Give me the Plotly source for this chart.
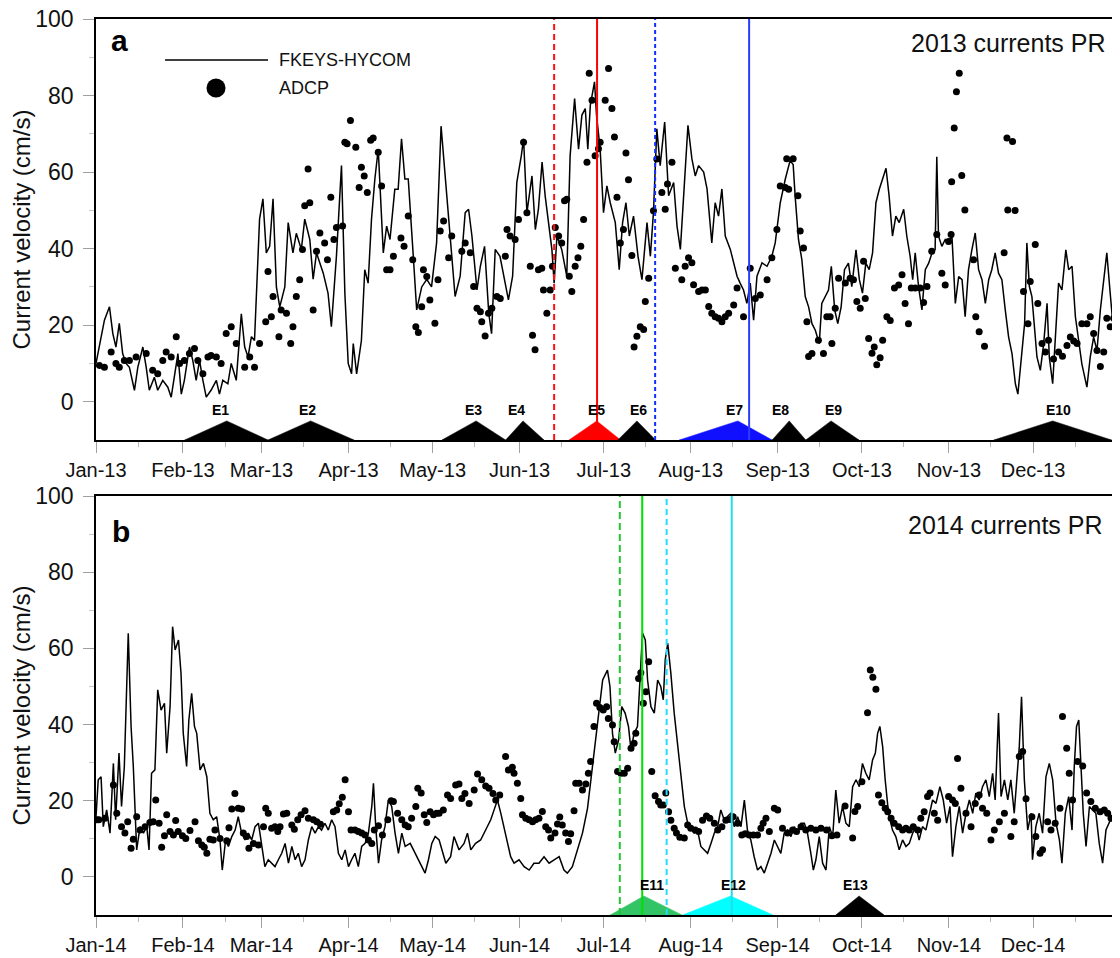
import numpy as np
import pandas as pd
import plotly.graph_objects as go

# ---------------- DATA (day-of-year offset, value in cm/s) ----------------
hycom_2013 = [
 (0,10),(1.8,17),(3,21.3),(4.8,24.8),(6,17.8),(7.1,14.3),(8.3,20.5),(9.5,12.6),(10.7,10),(11.9,9),
 (13.7,3),(14.9,9),(16.7,14.3),(17.9,9),(19,3),(20.8,6.4),(22,3),(23.8,5.6),(25.6,3.8),(26.8,1.2),
 (28,7.3),(29.2,12.6),(30.4,2),(31.5,5.6),(33.3,14.3),(34.5,10.8),(35.7,5.6),(36.9,10.8),(38.1,5.6),(39.3,1.2),
 (41,3),(42.9,5.6),(44,2),(45.2,5.6),(47,4.7),(48.2,10),(50,5.6),(51.8,23),(53,14.3),(54.2,11.7),
 (55.4,17),(56.5,16),(58.3,47.7),(59.5,53),(60.7,38.9),(61.9,40.6),(63.1,53),(64.3,30),(65.5,24.8),(67.3,30),
 (68.5,46.8),(70.2,38.9),(71.4,44),(73.2,39.8),(74.4,47.7),(76.2,42.4),(77.4,32),(78.6,38.9),(81,33.6),(82.7,28.4),
 (83.9,19.6),(85.7,38),(87.5,61.7),(88.7,28.4),(89.9,10),(91.1,7.3),(91.7,15.2),(92.9,7.3),(94.6,16),(95.8,34.5),
 (97,31),(98.2,47.7),(99.4,58.2),(100.6,66),(102.4,38.9),(103.6,45.9),(104.8,42.4),(106.5,55.5),(107.7,55.5),(108.9,68.7),
 (110.1,58.2),(111.3,58.2),(113.1,38),(114.3,24),(116.1,30),(117.9,32),(119.6,30),(121.4,41.5),(123,72),
 (125.7,46.8),(128,27.5),(129.8,32.8),(131.6,49.4),(132.8,50.3),(134,43.3),(135.8,29.2),(137,35.4),(138.5,40.6),(140,23.1),
 (141,17.8),(142.3,39.8),(144,38),(146,31),(147,26.6),(148.5,32.8),(150,57.3),(151.6,64.3),(152.4,68.7),(153.6,49.4),
 (155.4,59),(156.6,45),(157.7,50.3),(159,62.6),(160.1,53.8),(161.3,46.8),(162.5,39.8),(163.3,31),(164.3,43.3),(166,39.8),
 (167.8,32.8),(169,64.3),(170.6,79.2),(172,66),(173.2,74.9),(174.4,76.6),(175.3,66),(176.2,77.5),(177.7,83.6),(178.4,74.9),
 (179.7,66),(180.9,49.4),(182.1,56.4),(183.3,52),(185.1,46.8),(186.5,34.5),(187.7,46.8),(188.9,52),(190.1,43.3),(191.6,48.5),
 (193.2,38),(194.6,31.9),(196.4,46.8),(197.6,38),(198.7,49.4),(199.9,71.3),(201.1,61.7),(202.7,73.1),(204.1,53.8),(205.9,57.3),
 (207.1,45.9),(208.3,39.8),(209.4,52),(211,72.2),(212.4,63.5),(213.6,59),(214.8,61.7),(216.6,60),(217.8,55.6),(219.5,41.5),
 (220.7,52),(221.9,48.5),(223.1,55.6),(224.3,43.3),(226.1,39.8),(227.3,36.3),(228.5,32.8),(229.6,31),(230.8,29.2),(232,25.7),
 (233.2,31),(234.4,21.3),(235.6,32.8),(237.4,36.3),(239.2,35.4),(240.9,38),(242.1,41.5),
 (243.9,52),(245.7,58.2),(247.4,63),(248.5,62),(249.2,53.8),(250.4,42.4),(251.6,37.1),(252.8,27.5),(254,24.8),(255.2,20.4),
 (256.4,18.7),(257.8,15.2),(258.7,25.7),(259.9,27.5),(261.1,29.2),(262.1,35.4),(263.3,24),(264.4,20.4),(265.6,24.8),(266.8,34.5),
 (268.2,36.2),(269.4,30.1),(270.9,39.7),(272.1,31.9),(273.2,28.4),(274.4,36.2),(275.6,34.5),(276.8,38.9),(278,52),(279.2,55.5),
 (280.4,58.2),(281.6,61),(282.7,53.8),(283.9,43.3),(285.1,48.5),(286.3,46.8),(287.9,50.3),(289,43.3),(290.2,38),(291.1,31.9),
 (292,38.9),(293.2,30.1),(294.4,24),(295.6,34.5),(296.8,36.2),(298,38.9),(299.1,39.7),(299.7,64),(300.3,43.3),(301.5,40.6),
 (302.7,42.4),(303.9,41.5),(305.1,43.3),(306.3,25.7),(307.5,32.7),(308.7,31.9),(309.8,22.2),(311,34.5),(312.2,39.7),(313.4,44.1),
 (314.6,34.5),(315.8,31.9),(317,25.7),(318.2,31.9),(319.3,34.5),(320.5,38.9),(321.7,33.6),(322.9,31.9),(324.1,24),(325.3,16.9),
 (326.5,12.6),(327.7,4.7),(328.6,2),(329.8,11.7),(331,20.4),(331.8,41.5),(332.7,30.1),(333.6,27.5),(334.5,18.7),(335.4,11.7),
 (336.6,8.2),(337.8,15.2),(339,25.7),(339.8,11.7),(341,4.7),(341.9,16.9),(343.1,31),(344.3,29.2),(345.7,39.7),(346.7,34.5),
 (347.9,35.4),(349.1,22.2),(350.2,16.9),(351.4,9.9),(353.2,3.8),(354.4,11.7),(355.6,16.9),(356.8,13.4),(358,24),(359.2,31.9),
 (360.3,38.9),(361.5,28.4),(362.7,18.7),(363.9,8.2),(364.7,11.7),
]

adcp_2013 = [
 (1.2,9.5),(3,9),(5.4,13),(7.1,10),(8.3,9),(10.1,10.8),(11.9,10.8),(14.3,11.7),(17.9,12.6),(20.2,8.2),
 (22,7.3),(23.8,10.8),(25,13),(26.8,11.7),(28.6,17),(29.8,10),(31.5,10.8),(33.3,12.6),(35.1,13.9),(36.3,10.8),
 (38.1,7.3),(39.9,11.7),(41,12.1),(42.9,11.7),(44.6,10),(46.4,17.8),(48.2,19.6),(50,15.2),(53,9),(54.8,11.7),
 (56.5,9),(58.3,15.2),(60.5,20.9),(61.3,34),(62.5,22.2),(63.1,27.5),(65.2,17),(66,24),(67.9,23.1),(69.4,15.2),
 (70.2,19.6),(71.4,27.5),(72.6,31.9),(73.6,39.8),(74.4,51.2),(75.6,60.8),(76.2,52),(77.4,24),(78.6,39.3),(79.8,44.1),
 (81.5,41.5),(82.5,37.1),(83.7,53.4),(84.8,42.4),(85.7,45.5),(87.9,45.9),(88.7,67.8),(89.5,67.4),(90.7,73.5),(92.6,66.5),
 (93.8,56),(94.6,61.3),(95.6,59),(96.7,54.7),(97.9,68.3),(98.8,68.9),(100.6,65.2),(101.8,56.4),(103.6,34.5),(104.8,34.5),
 (106,38),(108.7,42.8),(109.8,40.6),(111.3,48.5),(112.9,37.1),(114,19.6),(114.9,18.1),(116.1,24.8),(116.7,34.5),(117.9,32.7),
 (119,26.6),(120.8,20.5),(121.9,31.9),(122.7,44.6),(123.9,47.2),(125.7,37.6),(126.8,43.3),(130.4,39.3),(131.6,41.5),(133.4,38.9),
 (134.6,30.1),(135.8,24.4),(137,23.5),(137.5,20.9),(138.7,17.2),(139.9,23.1),(141.1,24.4),(142.9,27.5),(144.1,27),(145.9,38),
 (146.5,45),(147.6,43.3),(149.4,42.4),(150.6,47.6),(152.4,67.8),(153.6,49.4),(154.8,35.4),(155.6,17.4),(156.5,13.6),(157.7,34.5),
 (158.9,34.9),(159.5,29.2),(160.7,23.1),(161.9,29.2),(162.7,35.4),(163.7,45.5),(164.9,43.3),(166,41.5),(167,52.5),(167.8,52.9),
 (168.7,32.8),(169.6,28.8),(170.8,35.4),(171.8,37.6),(172.8,40.6),(173.8,47.6),(175,62.6),(175.8,85.8),(176.8,78.8),(177.9,64.3),
 (179.1,66.1),(179.7,67.8),(181.5,78.8),(182.7,87.1),(183.9,76.6),(184.8,69.2),(185.7,53.4),(186.9,41.5),(188,45),(188.9,65),
 (189.8,58),(191,38.2),(191.8,14.3),(192.8,17.1),(194,19.6),(195.2,18.9),(195.8,26.2),(197,32.3),(198.7,49.9),(199.9,63.4),
 (201.7,54.7),(202.9,50.3),(203.7,56.9),(205.3,62.6),(206.5,34.9),(208.8,31.9),(210,35.4),(211.2,37.6),(212.4,36.3),(213,30.6),
 (214.8,28.8),(216,29.2),(217.2,29.2),(218.4,24.9),(219.5,23.1),(220.7,22.2),(221.9,21.8),(223.1,20.9),(224.3,22.2),(225.5,23.1),
 (227.3,25.3),(228.5,29.7),(230.8,22.2),(233.2,34.9),(235,27),(236.8,27.9),(239.2,31.9),(240.9,37.6),(242.7,45),(243.9,56.4),
 (245.7,56),(246.2,63.5),(246.9,55.5),(248.5,63.5),(250.2,53.8),(251,44.6),(252.2,40.2),(253.4,20.9),(254,11.8),(255.2,12.6),
 (257.5,16.1),(259.3,12.6),(260.5,22.2),(261.7,22.2),(262.3,15.2),(263.5,24.4),(264.7,32.3),(267.1,31),(268.8,32.3),(270,31.9),
 (271.2,26.2),(272.4,24.4),(273.6,36.7),(274.2,27),(275.4,16.5),(276.6,12.7),(277.4,14.3),(278.3,9.7),(279.5,11.5),(280.4,16.1),
 (281.9,22.2),(283.1,21.2),(284.6,29.7),(286.1,30.5),(287.3,33.2),(288.4,25.7),(289.6,20.4),(290.6,29.7),(292,29.7),(293.8,29.7),
 (295,25.9),(296.2,30.1),(297.9,39.3),(299.7,43.7),(301.5,33.6),(302.7,30.5),(303.9,41.9),(304.8,43.7),(305,57.5),(305.9,71.5),
 (306.7,81),(307.7,85.8),(308.6,59.1),(309.7,50.1),(312.8,37.1),(313.6,22.2),(314.8,18.3),(316.7,14.5),(323.7,38.9),(324.7,68.9),
 (325,50.1),(326.7,68),(327.6,50),(330.6,28.8),(332.2,20.4),(333,31.4),(334.8,41.1),(335.7,25.7),(337.2,15.2),(338.4,13),
 (339.5,16.1),(341.3,11.2),(343.1,13),(344.5,11.9),(346.1,14.7),(347.3,16.9),(348.5,15.9),(349.7,15.2),(351.4,20.4),(353.2,20.4),
 (354.4,22.2),(355.6,17.8),(356.8,13.4),(358,9.2),(359.2,13),(360.3,21.8),(361.5,19.6),(362.7,21.8),(363.9,12.6),
]

hycom_2014 = [
 (0,15.8),(0.8,25.5),(1.8,26.3),(2.6,13.2),(3.8,17.6),(5,11.5),(6.2,29.8),(7,15),(8.2,32.5),(9.1,18.5),
 (10.1,29),(10.9,50),(11.5,64),(12.5,39.5),(13.3,29),(14.5,7.1),(15.7,13.2),(16.9,11.5),(18.1,13.2),(18.9,7.1),
 (19.8,27.2),(21,28.1),(22,49.1),(23.2,43.8),(24.4,45.6),(25.2,32.5),(26.4,44.7),(27.3,65.7),(28.2,59.6),(29.4,62.2),
 (30.3,53.4),(31.1,37.7),(32.3,29),(33.1,41.2),(34.1,48.2),(35.1,39.5),(35.9,37.7),(37.1,28.1),(38.3,29.8),(39.5,26.3),
 (40.6,16.7),(41.8,15),(43,15.8),(44.2,9.7),(45,1.8),(46.2,9.7),(47.2,8),(48.4,10.6),(49.6,12.3),(50.7,15.8),
 (51.9,11.5),(53.1,9.7),(54.3,11.5),(55.5,9.7),(56.7,13.2),(57.9,14.1),(59.1,8),(60.2,2.7),(61.4,4.5),(62.6,3.6),
 (63.8,2.7),(65,4.5),(66.2,6.2),(67.4,8.8),(68.6,3.6),(69.8,8),(71,4.5),(72.1,6.2),(73.3,2.7),(74.5,4.5),
 (75.7,9.7),(76.9,13.2),(78.1,11.5),(79.3,13.2),(80.4,12.3),(81.6,14.1),(82.8,12.3),(84,15),(85.2,13.2),(86.4,6.2),
 (87.6,4.5),(88.8,7.1),(90,2.7),(91.1,4.5),(92.3,6.2),(93.5,2.7),(94.7,8),(95.9,8.8),(97.1,11.5),(98.3,18.5),
 (98.9,24.6),(99.7,13.2),(100.7,3.6),(101.8,9.7),(103,13.2),(104.2,20.2),(105.4,18.5),(106.6,11.5),(107.8,6.2),(109,11.5),
 (110.2,8),(112,8.8),(113.7,6.2),(115.5,3.6),(117.3,1),(118.5,4.5),(119.7,8.8),(120.9,10.6),(122.3,9.7),(124.7,3.6),
 (126.4,5.3),(127.6,10.6),(129.4,7.1),(131.2,8.8),(132.4,11.5),(133.6,7.1),(135.3,8.8),(137.1,9.7),(138.9,12.3),(140.7,15),
 (141.9,17.6),(143.1,20.2),(144.3,16.7),(146,11.5),(147.8,5.3),(149,3.6),(150.8,4.5),(152.6,2.7),(154.4,1.8),(156.1,3.6),
 (157.9,3.6),(159.7,5.3),(161.5,3.6),(163.3,4.5),(165.1,5.3),(166.8,1.8),(168,1),(169.8,2.7),(171.6,7.1),(173.4,11.5),
 (175.2,18),(177,29),(178.7,38.5),(180.6,51.7),(182.3,54.3),(183.2,50),(184.1,37.7),(185.1,32.5),(186.3,36),(187.4,44.7),
 (188.6,43),(189.8,39.5),(190.7,33.3),(191.8,37.7),(193,39.5),(193.9,51.7),(194.8,64),(195.8,62.2),(196.6,51.7),(197.8,44.7),
 (199,43),(200.2,51.7),(201.3,50),(202.2,46.5),(202.9,57),(203.8,61.3),(204.9,53.5),(206.1,43),(207.3,34.2),(208.5,25.5),
 (209.7,18.5),(210.9,14.1),(212,13.2),(213.2,11.5),(214.4,12.3),(215.6,8),(216.8,7.1),(218,6.2),(219.2,8.8),(220.4,11.5),
 (221.6,13.2),(222.7,17.6),(223.9,15),(225.1,15.8),(226.3,16.7),(227.5,13.2),(228.7,15.8),(229.9,13.2),(231.1,20.2),(232.2,12.3),
 (233.4,9.7),(234.6,5.3),(235.8,1.8),(237,2.7),(238.2,1),(239.4,3.6),(240.6,6.2),(241.8,9.7),(243,8),(244.1,6.2),
 (245.3,11.5),(246.5,12.3),(247.7,10.6),(248.9,13.2),(250.1,11.5),(251.3,14.1),(252.5,14.1),(253.6,11.5),(254.8,6.2),(255.7,1.8),
 (256.6,4.5),(257.8,10.6),(259,3.6),(260.2,1.8),(261.4,13.2),(262.6,10.6),(263.7,22.8),(264.9,14.1),(266.1,18.5),(267.3,14.1),
 (268.5,13.2),(269.7,23.7),(270.9,25.5),(272.1,23.7),(273.2,29.8),(274.4,27.2),(275.6,25.5),(276.8,30.7),(277.8,32.5),(278.6,37.7),
 (279.4,39.5),(280.4,34.2),(281.3,25.5),(282.5,16.7),(283.9,12.3),(285.1,10.6),(286.3,7.1),(287.5,9.7),(288.7,8),(289.9,8.8),
 (291.1,11.5),(292.3,13.2),(293.4,9.7),(294.6,13.2),(295.8,12.3),(297,16.7),(298.2,20.2),(299.4,19.3),(300.8,23.7),(302,20.2),
 (303.2,14.1),(304.4,18.5),(305.3,5.3),(306.5,13.2),(307.7,18.5),(308.9,11.5),(310.1,16.7),(311.3,20.2),(312.5,16.7),(313.6,22),
 (314.8,20.2),(316,23.7),(317.2,25.5),(318.4,21.1),(319.6,27.2),(320.5,20.2),(321.7,43),(322.6,21.1),(323.8,25.5),(325,20.2),
 (326.1,25.5),(327.3,16.7),(328.5,29.8),(329.1,34.2),(329.9,47.3),(330.9,25.5),(332.1,12.3),(333.3,16.7),(333.8,4.5),(335,13.2),
 (336.2,16.7),(337.4,11.5),(338.6,26.3),(339.8,29.8),(341,25.5),(342.2,14.1),(343.4,9.7),(344.3,3.6),(345.5,16.7),(346.7,21.1),
 (347.9,12.3),(348.7,29),(349.5,39.5),(350.3,41.2),(351.1,29),(351.9,16.7),(352.9,8),(354.1,18.5),(355.2,17.6),(356.4,16.7),
 (357.6,8.8),(358.8,3.6),(360,12.3),(361.2,14.1),(362.1,15.8),(364,17),
]

adcp_2014 = [
 (0.2,15),(1,15),(3.2,15.4),(6.2,24.1),(7.4,16.7),(9.1,13.2),(10.3,11.5),(11.3,14.5),(12.5,7.5),(13.3,9.9),
 (14.5,15.8),(15.7,12.3),(17.5,13.2),(19.2,14.3),(20.4,14.5),(21.3,20.2),(22.5,14.1),(23.4,7.8),(24.4,10.8),(25.2,16.3),
 (26.4,11.9),(27.6,11),(28.4,14.8),(29.3,11.9),(30.8,10.8),(32,10.1),(33.5,12.2),(35.3,14.5),(36.5,9.5),(37.7,8.4),
 (38.6,7.8),(39.5,6.2),(40.6,9.9),(41.8,9.7),(42.4,12.3),(44.2,10.1),(46.6,9.5),(47.4,12.9),(48.4,17.8),(49.5,21.9),
 (50.7,18),(51.9,17.8),(52.5,11.5),(53.7,10.6),(54.5,7.5),(56.1,8.8),(57.9,8.4),(59.7,13.2),(60.5,18),(61.4,16.7),
 (62.6,12.8),(63.8,13.2),(64.8,11.9),(65.6,13.2),(66.8,16.5),(68,16.7),(69.8,13.6),(70.7,12.5),(71.9,15),(73.1,16.3),
 (74.5,17.4),(75.7,15.4),(77.5,15),(78.7,14.5),(80,13.8),(84.6,17.1),(85.8,17.6),(86.7,19.2),(87.8,20.9),(88.8,25.5),
 (90,17.1),(90.9,12.3),(92.3,12.3),(93.5,11.9),(94.7,11.5),(95.9,11),(97.1,9.7),(98.3,8.8),(99.2,12.3),(100.7,13.4),
 (102.1,11),(104,15),(105.2,20),(106,19.8),(107.5,16.7),(109,15),(110.2,13.6),(111.3,13.2),(112.5,15.4),(114,18.5),
 (114.7,23.3),(115.9,22),(117,16.3),(117.9,14.3),(119.1,17.1),(120.3,16.3),(121.4,16.7),(122.3,16.7),(123.8,17.6),(125.3,21.5),
 (126.4,20.6),(128.2,24.1),(129.4,24.4),(130.4,20.6),(131.5,21.9),(133,19.3),(134.8,22.8),(136,27),(137.5,25.5),(138.9,23.9),
 (140.1,23.3),(141.5,21.9),(142.5,20.2),(143.9,21.5),(146,31.6),(147,28.1),(148.4,28.8),(149,27.2),(150.2,24.6),(151.4,20.6),
 (152,16.3),(153.2,15.4),(154.4,15),(155.6,14.5),(156.7,15),(157.9,15.4),(159.1,17.2),(160.3,13.2),(161.3,12.3),(162.1,10.2),
 (163.6,11.5),(164.5,13.9),(165.3,15.7),(166.2,13.6),(167.4,11.5),(168.4,9.3),(169.2,11.3),(170.4,17.4),(171,24.6),(172.2,24.6),
 (173.4,22.8),(174.6,24.4),(175.5,27.2),(176.3,30.3),(177.5,39.5),(178.4,45.6),(179.6,44.5),(180.8,43.8),(182,44.7),(182.6,41.6),
 (184.1,39.9),(184.7,35.5),(185.9,27.7),(187.1,27.2),(188.3,27.2),(189.5,28.5),(190.7,33.8),(191.8,35.1),(192.4,37.7),(193.4,52.1),
 (194.2,53.6),(195.1,45.6),(196,48.6),(197,56.5),(198.1,27.7),(199.3,21.3),(200.5,19.8),(201.3,18.9),(202.2,18.9),(203.1,22),
 (204.1,17.1),(204.9,14.9),(206.1,12.8),(206.9,11.5),(208.1,10.4),(209.7,10.2),(210.9,13.6),(212,12.8),(213.6,12.3),(214.8,11.9),
 (216.2,14.9),(217.6,16),(218.8,15.4),(220.4,14.1),(221.6,12.3),(223.1,13.2),(224.5,14.9),(226,15.1),(227.1,15.8),(228.7,14.1),
 (230.2,11),(231.4,11.3),(232.8,11),(234.3,11),(235.8,11),(237,12.8),(237.8,14.1),(238.8,15.4),(240,11.9),(241.8,18),
 (243,17.6),(244.7,12.8),(246.5,11.5),(248.3,12.3),(249.7,11.9),(251.3,13.2),(253,12.3),(254.8,12.8),(256.6,12.3),(258.4,12.8),
 (260.4,12.3),(262.3,10.8),(264.1,11),(267,18.6),(269.7,10.2),(270.5,17.2),(271.5,18.5),(273,25),(275,43.1),(276,54.3),
 (276.9,52.4),(278,49.3),(278.9,21.5),(280.1,19.5),(281.3,18),(282.2,17.1),(283.4,15.4),(284.5,14.1),(286.1,13.2),(287.5,12.3),
 (288.7,12.8),(289.9,12.3),(291.3,13.2),(292.9,12.3),(294,15.4),(295.2,17.1),(296.4,21.1),(297.3,22),(298.8,16.7),(300,14.9),
 (303.9,21.1),(305.3,20.2),(306.3,19.3),(307.1,31.1),(308.3,23.3),(310.1,16.7),(311.9,13.2),(313.4,19.3),(314.8,21.5),(316,18),
 (317.5,16.7),(319,9.7),(320.2,12.3),(322,14.5),(323.8,16.7),(326.1,10.6),(327.3,14.5),(329.1,31.6),(330.3,32.9),(331.5,20.5),
 (333.6,15.8),(335,10.6),(336.5,6.2),(337.4,7.1),(339.2,14.5),(340.4,12.3),(341.9,14.1),(343.6,18),(344.5,42.1),(346,33.8),
 (346.9,27.2),(348.1,20.2),(349.9,30.3),(351.7,29.1),(353.1,22),(354.6,19.8),(356.2,18),(357.9,17.1),(359.4,17.6),(360.6,16.7),
 (361.8,15.4),
]

# Events: name, start day, peak day, end day, colour
events_2013 = [
 ("E1", 31.6, 46.6, 61.3, "black"), ("E2", 61.3, 76.5, 92, "black"),
 ("E3", 123.3, 135.5, 146, "black"), ("E4", 146, 152.2, 159.7, "black"),
 ("E5", 168.6, 178.5, 187, "#ff0000"), ("E6", 186, 192.8, 199.5, "black"),
 ("E7", 207.9, 228.8, 241, "#1010ff"), ("E8", 241, 247.1, 253, "black"),
 ("E9", 253, 262, 272, "black"), ("E10", 320, 341, 362, "black"),
]
events_2014 = [
 ("E11", 183.3, 195.3, 208.9, "#33c466"), ("E12", 209.1, 226.2, 241.3, "#00ffff"),
 ("E13", 263.7, 272, 280.9, "black"),
]
event_label_day_2013 = [44.4, 75.4, 134.4, 149.9, 178.4, 193.2, 227.6, 243.9, 262.7, 343.2]
event_label_day_2014 = [198.2, 227.1, 270.6]

# Vertical markers: day, colour, dash
vlines_2013 = [(163.3, "#ff1010", "6px,4px"), (178.6, "#ff0000", "solid"),
               (199.3, "#1030ff", "4px,3px"), (232.8, "#2a3cff", "solid")]
vlines_2014 = [(186.7, "#22c433", "7px,4px"), (194.7, "#00e000", "solid"),
               (203.4, "#22ddff", "6px,4px"), (226.6, "#22dcec", "solid")]

y_ticks = [0, 20, 40, 60, 80, 100]
y_minor = [10, 30, 50, 70, 90]
month_fmt = "%b-%y"

# ---------------- helpers ----------------
FONT = "Arial, 'Liberation Sans', Helvetica, sans-serif"

def to_dates(year, days):
    return pd.Timestamp(f"{year}-01-01") + pd.to_timedelta(np.asarray(days, dtype=float), unit="D")

fig = go.Figure()

def add_panel(year, hycom, adcp, events, label_days, vlines, xa, ya):
    hd, hv = zip(*hycom)
    ad, av = zip(*adcp)
    for (name, s, p, e, col) in events:
        fig.add_trace(go.Scatter(
            x=to_dates(year, [s, p, e, s]), y=[-10, -5, -10, -10],
            mode="lines", fill="toself", fillcolor=col,
            line=dict(color=col, width=0.5), hoverinfo="skip",
            showlegend=False, xaxis=xa, yaxis=ya))
    fig.add_trace(go.Scatter(x=to_dates(year, hd), y=hv, mode="lines",
                             line=dict(color="black", width=1.5),
                             name="FKEYS-HYCOM", showlegend=False, xaxis=xa, yaxis=ya))
    fig.add_trace(go.Scatter(x=to_dates(year, ad), y=av, mode="markers",
                             marker=dict(color="black", size=7),
                             name="ADCP", showlegend=False, xaxis=xa, yaxis=ya))
    for (d, col, dash) in vlines:
        xd = to_dates(year, [d])[0]
        fig.add_shape(type="line", xref=xa, yref=ya, x0=xd, x1=xd,
                      y0=-10, y1=100, line=dict(color=col, width=2, dash=dash))
    for (ev, ld) in zip(events, label_days):
        fig.add_annotation(x=to_dates(year, [ld])[0], y=-2.2, xref=xa, yref=ya,
                           text=f"<b>{ev[0]}</b>", showarrow=False,
                           font=dict(family=FONT, size=14, color="black"),
                           xanchor="center", yanchor="middle")

add_panel(2013, hycom_2013, adcp_2013, events_2013, event_label_day_2013, vlines_2013, "x", "y")
add_panel(2014, hycom_2014, adcp_2014, events_2014, event_label_day_2014, vlines_2014, "x2", "y2")

def xaxis_cfg(year, anchor):
    majors = pd.date_range(f"{year}-01-01", f"{year}-12-01", freq="MS")
    minors = majors + pd.Timedelta(days=15)
    return dict(
        type="date", anchor=anchor, domain=[0, 1], automargin=False,
        range=[f"{year}-01-01", f"{year+1}-01-01"],
        tickmode="array", tickvals=list(majors), tickformat=month_fmt,
        ticks="outside", ticklen=11, tickwidth=1, tickcolor="#a0a0a0",
        minor=dict(tickvals=list(minors), ticks="outside", ticklen=5, tickcolor="#b8b8b8", tickwidth=1),
        showline=True, linecolor="black", linewidth=1.5, mirror=True,
        showgrid=False, zeroline=False, ticklabeloverflow="allow",
        tickfont=dict(family=FONT, size=20, color="#111"),
    )

def yaxis_cfg(anchor, domain):
    return dict(
        anchor=anchor, domain=domain, range=[-10, 100], automargin=False,
        tickmode="array", tickvals=y_ticks,
        ticks="outside", ticklen=11, tickwidth=1, tickcolor="#a0a0a0",
        minor=dict(tickvals=y_minor, ticks="outside", ticklen=5, tickcolor="#c8c8c8", tickwidth=1),
        ticklabelstandoff=5, ticklabeloverflow="allow",
        showline=True, linecolor="black", linewidth=1.5, mirror=False,
        showgrid=False, zeroline=False,
        tickfont=dict(family=FONT, size=23, color="#111"),
        title=dict(text="Current velocity (cm/s)", font=dict(family=FONT, size=24, color="#111"), standoff=4),
    )

# The page body adds an 8px offset; the figure is sized so the plot area lands where the original does.
fig.update_layout(
    width=1112, height=950,
    margin=dict(l=88, r=0, t=11, b=43, autoexpand=False),
    paper_bgcolor="white", plot_bgcolor="white",
    showlegend=False,
    xaxis=xaxis_cfg(2013, "y"),
    yaxis=yaxis_cfg("x", [0.5301, 1.0]),
    xaxis2=xaxis_cfg(2014, "y2"),
    yaxis2=yaxis_cfg("x2", [0.0, 0.4676]),
)

# manual legend (panel a)
fig.add_shape(type="line", xref="paper", yref="paper", x0=0.0674, x1=0.168, y0=0.9542, y1=0.9542,
              line=dict(color="black", width=1.5))
fig.add_shape(type="circle", xref="paper", yref="paper", x0=0.1079, x1=0.1265, y0=0.9124, y1=0.9336,
              fillcolor="black", line=dict(color="black", width=0))
fig.add_annotation(x=0.1768, y=0.9537, xref="paper", yref="paper", text="FKEYS-HYCOM", showarrow=False,
                   xanchor="left", yanchor="middle", font=dict(family=FONT, size=18, color="#111"))
fig.add_annotation(x=0.1768, y=0.9227, xref="paper", yref="paper", text="ADCP", showarrow=False,
                   xanchor="left", yanchor="middle", font=dict(family=FONT, size=18, color="#111"))

# panel labels and titles
fig.add_annotation(x=0.0227, y=0.9757, xref="paper", yref="paper", text="<b>a</b>", showarrow=False,
                   xanchor="center", yanchor="middle", font=dict(family=FONT, size=30, color="black"))
fig.add_annotation(x=0.0247, y=0.4283, xref="paper", yref="paper", text="<b>b</b>", showarrow=False,
                   xanchor="center", yanchor="middle", font=dict(family=FONT, size=30, color="black"))
fig.add_annotation(x=0.9883, y=0.9732, xref="paper", yref="paper", text="2013 currents PR", showarrow=False,
                   xanchor="right", yanchor="middle", font=dict(family=FONT, size=25, color="#111"))
fig.add_annotation(x=0.9854, y=0.4353, xref="paper", yref="paper", text="2014 currents PR", showarrow=False,
                   xanchor="right", yanchor="middle", font=dict(family=FONT, size=25, color="#111"))

fig.write_html("out.html")
